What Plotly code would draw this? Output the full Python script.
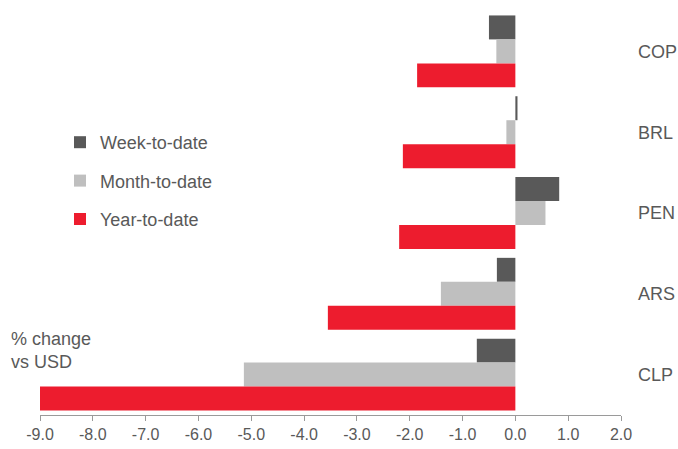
import plotly.graph_objects as go

# Currency moves against the US dollar, % change
currencies = ["COP", "BRL", "PEN", "ARS", "CLP"]
week_to_date = [-0.50, 0.04, 0.83, -0.35, -0.73]
month_to_date = [-0.36, -0.17, 0.57, -1.41, -5.14]
year_to_date = [-1.86, -2.13, -2.20, -3.55, -9.00]
x_ticks = [-9.0, -8.0, -7.0, -6.0, -5.0, -4.0, -3.0, -2.0, -1.0, 0.0, 1.0, 2.0]

series = [
    ("Week-to-date", week_to_date, "#595959"),
    ("Month-to-date", month_to_date, "#BFBFBF"),
    ("Year-to-date", year_to_date, "#ED1C2E"),
]

TEXT = "#595959"
AXIS = "#9A9A9A"
FONT = "Liberation Sans, Arial, sans-serif"

fig = go.Figure()
for i, (name, vals, color) in enumerate(series):
    fig.add_trace(go.Bar(
        y=currencies, x=vals, name=name, orientation="h",
        marker=dict(color=color, line=dict(width=0)),
        legendgroup=f"g{i}",
    ))

x_min, x_max = x_ticks[0], x_ticks[-1]
zero_pos = (0 - x_min) / (x_max - x_min)
n = len(currencies)

fig.update_layout(
    width=678, height=449,
    margin=dict(l=40, r=57, t=11, b=34, autoexpand=False),
    paper_bgcolor="white", plot_bgcolor="white",
    font=dict(family=FONT, color=TEXT, size=18),
    barmode="group", bargap=0.11, bargroupgap=0,
    showlegend=True,
    legend=dict(
        x=(60 - 40) / 581, xanchor="left",
        y=(415 - 124) / 404, yanchor="top",
        font=dict(size=18, color=TEXT),
        bgcolor="rgba(0,0,0,0)", borderwidth=0,
        tracegroupgap=12, traceorder="grouped",
    ),
    xaxis=dict(
        range=[x_min, x_max], tickvals=x_ticks,
        ticktext=[f"{v:.1f}" for v in x_ticks],
        showgrid=False, zeroline=False,
        showline=True, linecolor=AXIS, linewidth=1,
        ticks="outside", ticklen=5, tickcolor=AXIS,
        tickfont=dict(size=16, color=TEXT),
        fixedrange=True,
    ),
    yaxis=dict(
        type="category", categoryorder="array", categoryarray=currencies,
        range=[n - 0.5, -0.5],
        side="right", showgrid=False, zeroline=False, showline=False,
        ticks="", ticklabelstandoff=16,
        tickfont=dict(size=18, color=TEXT),
        fixedrange=True,
    ),
    # category boundary ticks along the zero line
    yaxis2=dict(
        overlaying="y", anchor="free", position=zero_pos, side="left",
        range=[n - 0.5, -0.5], tick0=-0.5, dtick=1,
        showgrid=False, zeroline=False,
        showline=True, linecolor=AXIS, linewidth=1,
        ticks="outside", ticklen=4, tickcolor=AXIS,
        showticklabels=False, fixedrange=True,
    ),
    annotations=[dict(
        text="% change<br>vs USD", xref="paper", yref="paper",
        x=(9 - 40) / 581, xanchor="left",
        y=(415 - 350) / 404, yanchor="middle",
        align="left", showarrow=False,
        font=dict(size=18, color=TEXT),
    )],
)

fig.write_html("out.html")
